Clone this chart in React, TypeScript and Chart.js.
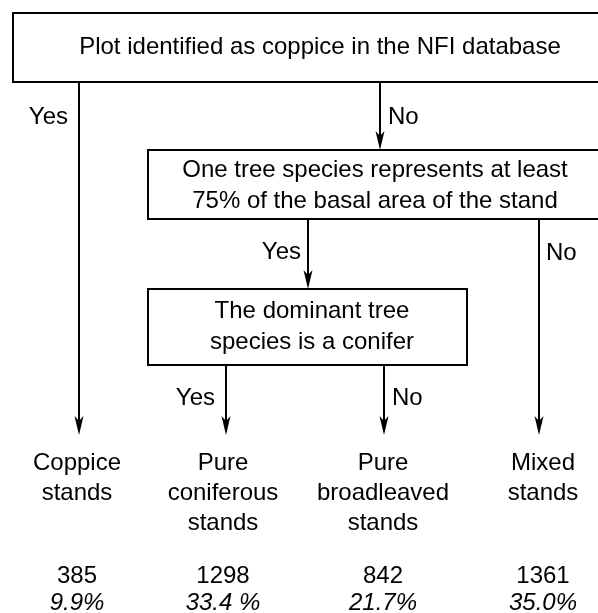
import React, { useEffect, useRef } from 'react';
import { Chart, registerables } from 'chart.js';

Chart.register(...registerables);

// ---- Data ----
const questions: string[][] = [
  ['Plot identified as coppice in the NFI database'],
  ['One tree species represents at least', '75% of the basal area of the stand'],
  ['The dominant tree', 'species is a conifer'],
];
const categories: string[][] = [
  ['Coppice', 'stands'],
  ['Pure', 'coniferous', 'stands'],
  ['Pure', 'broadleaved', 'stands'],
  ['Mixed', 'stands'],
];
const counts = [385, 1298, 842, 1361];
const percents = ['9.9%', '33.4 %', '21.7%', '35.0%'];
const branchLabels = ['Yes', 'No', 'Yes', 'No', 'Yes', 'No'];

// ---- Layout (in scale units) ----
const boxes = [
  { x0: 13, y0: 13, x1: 640, y1: 82, tx: 320, ty: [47] },
  { x0: 148, y0: 150, x1: 602, y1: 219, tx: 375, ty: [170, 201] },
  { x0: 148, y0: 289, x1: 467, y1: 365, tx: 312, ty: [311, 342] },
];
const arrows = [
  { x: 79, y0: 82, y1: 435 },
  { x: 380, y0: 82, y1: 150 },
  { x: 308, y0: 219, y1: 289 },
  { x: 539, y0: 219, y1: 435 },
  { x: 226, y0: 365, y1: 435 },
  { x: 384, y0: 365, y1: 435 },
];
const labelPos = [
  { x: 68, y: 117, align: 'right' },
  { x: 388, y: 117, align: 'left' },
  { x: 301, y: 252, align: 'right' },
  { x: 546, y: 253, align: 'left' },
  { x: 215, y: 398, align: 'right' },
  { x: 392, y: 398, align: 'left' },
];
const columnX = [77, 223, 383, 543];
const lineY = [463, 493, 523];
const countY = 576;
const pctY = 603;

const FONT = '"Liberation Sans", Arial, sans-serif';
const FS = 24;

const flowPlugin = {
  id: 'flow',
  afterDraw(chart: any) {
    const ctx = chart.ctx as CanvasRenderingContext2D;
    const xs = chart.scales.x;
    const ys = chart.scales.y;
    const X = (v: number) => xs.getPixelForValue(v);
    const Y = (v: number) => ys.getPixelForValue(v);
    ctx.save();
    ctx.strokeStyle = '#000';
    ctx.fillStyle = '#000';
    ctx.lineWidth = 2;
    ctx.textBaseline = 'middle';
    ctx.font = `${FS}px ${FONT}`;

    // boxes
    boxes.forEach((b, i) => {
      ctx.strokeRect(X(b.x0), Y(b.y0), X(b.x1) - X(b.x0), Y(b.y1) - Y(b.y0));
      ctx.textAlign = 'center';
      questions[i].forEach((line, j) => ctx.fillText(line, X(b.tx), Y(b.ty[j])));
    });

    // arrows
    arrows.forEach((a) => {
      const x = X(a.x);
      const yTip = Y(a.y1);
      ctx.beginPath();
      ctx.moveTo(x, Y(a.y0));
      ctx.lineTo(x, yTip - 12);
      ctx.stroke();
      ctx.beginPath();
      ctx.moveTo(x, yTip);
      ctx.lineTo(x - 4.5, yTip - 19);
      ctx.lineTo(x, yTip - 14);
      ctx.lineTo(x + 4.5, yTip - 19);
      ctx.closePath();
      ctx.fill();
    });

    // branch labels
    branchLabels.forEach((t, i) => {
      const p = labelPos[i];
      ctx.textAlign = p.align as CanvasTextAlign;
      ctx.fillText(t, X(p.x), Y(p.y));
    });

    // outcomes
    ctx.textAlign = 'center';
    categories.forEach((lines, i) => {
      lines.forEach((l, j) => ctx.fillText(l, X(columnX[i]), Y(lineY[j])));
      ctx.font = `${FS}px ${FONT}`;
      ctx.fillText(String(counts[i]), X(columnX[i]), Y(countY));
      ctx.font = `italic ${FS}px ${FONT}`;
      ctx.fillText(percents[i], X(columnX[i]), Y(pctY));
      ctx.font = `${FS}px ${FONT}`;
    });
    ctx.restore();
  },
};

export default function App() {
  const ref = useRef<HTMLCanvasElement>(null);
  useEffect(() => {
    if (!ref.current) return;
    const chart = new Chart(ref.current, {
      type: 'scatter',
      data: {
        datasets: [
          {
            data: counts.map((c, i) => ({ x: columnX[i], y: countY })),
            pointRadius: 0,
            pointHoverRadius: 0,
          },
        ],
      },
      options: {
        responsive: false,
        animation: false,
        devicePixelRatio: 1,
        layout: { padding: 0 },
        events: [],
        plugins: { legend: { display: false }, tooltip: { enabled: false } },
        scales: {
          x: { type: 'linear', min: 0, max: 598, display: false },
          y: { type: 'linear', min: 0, max: 613, reverse: true, display: false },
        },
      },
      plugins: [flowPlugin],
    });
    return () => chart.destroy();
  }, []);
  return (
    <div style={{ position: 'absolute', left: 0, top: 0, width: 598, height: 613, background: '#fff' }}>
      <canvas ref={ref} width={598} height={613} style={{ display: 'block' }} />
    </div>
  );
}
